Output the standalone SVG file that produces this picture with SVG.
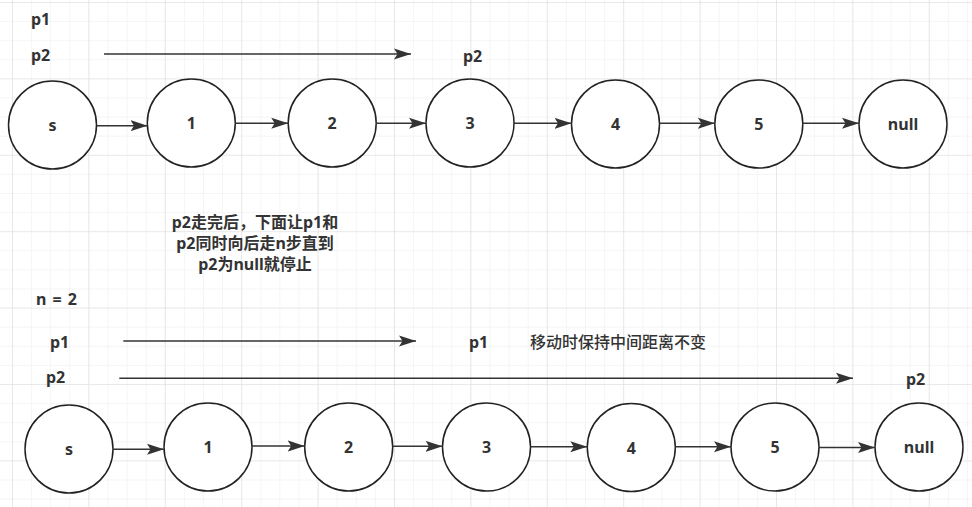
<svg xmlns="http://www.w3.org/2000/svg" width="972" height="507" viewBox="0 0 972 507">
<style>
.n circle{fill:#fff;stroke:#222;stroke-width:1.5}
text{font-family:"Noto Sans","Noto Sans CJK SC",sans-serif;font-size:16px;fill:#333}
.b{font-weight:bold}
.m{font-weight:500}
.c{text-anchor:middle;font-weight:bold}
.e line{stroke:#333;stroke-width:1.5;marker-end:url(#ah)}
</style>
<defs>
<pattern id="minor" x="12" y="2" width="19.1" height="19.1" patternUnits="userSpaceOnUse">
<path d="M0 0V19.1M0 0H19.1" fill="none" stroke="#ececec" stroke-width="1"/>
</pattern>
<pattern id="major" x="12" y="2" width="76.4" height="76.4" patternUnits="userSpaceOnUse">
<path d="M0 0V76.4M0 0H76.4" fill="none" stroke="#dedede" stroke-width="1.2"/>
</pattern>
<marker id="ah" markerUnits="userSpaceOnUse" markerWidth="18" markerHeight="12" refX="17" refY="6" orient="auto">
<path d="M0 0.5L17 6L0 11.5L3.5 6z" fill="#333"/>
</marker>
</defs>
<rect width="972" height="507" fill="#fff"/>
<rect width="972" height="507" fill="url(#minor)"/>
<rect width="972" height="507" fill="url(#major)"/>

<g id="labels">
<text class="b" x="31" y="25">p1</text>
<text class="b" x="31" y="60.5">p2</text>
<text class="b" x="463" y="62">p2</text>
<text class="c" x="255" y="228">p2走完后，下面让p1和</text>
<text class="c" x="255" y="249">p2同时向后走n步直到</text>
<text class="c" x="255" y="270">p2为null就停止</text>
<text class="b" x="36" y="305" xml:space="preserve" word-spacing="2">n = 2</text>
<text class="b" x="50" y="348">p1</text>
<text class="b" x="46" y="383">p2</text>
<text class="b" x="469" y="348">p1</text>
<text class="m" x="530" y="348">移动时保持中间距离不变</text>
<text class="b" x="906" y="385">p2</text>
</g>

<g id="top-s" class="n"><circle cx="52.5" cy="125" r="44"/><text class="c" x="52.5" y="131">s</text></g>
<g id="top-1" class="n"><circle cx="191.3" cy="123" r="44"/><text class="c" x="191.3" y="129">1</text></g>
<g id="top-2" class="n"><circle cx="332.2" cy="123" r="44"/><text class="c" x="332.2" y="129">2</text></g>
<g id="top-3" class="n"><circle cx="470" cy="123" r="44"/><text class="c" x="470" y="129">3</text></g>
<g id="top-4" class="n"><circle cx="615.5" cy="124" r="44"/><text class="c" x="615.5" y="130">4</text></g>
<g id="top-5" class="n"><circle cx="758.8" cy="124" r="44"/><text class="c" x="758.8" y="130">5</text></g>
<g id="top-null" class="n"><circle cx="903" cy="124" r="44"/><text class="c" x="903" y="130">null</text></g>

<g id="bot-s" class="n"><circle cx="69" cy="449" r="44"/><text class="c" x="69" y="455">s</text></g>
<g id="bot-1" class="n"><circle cx="208" cy="447" r="44"/><text class="c" x="208" y="453">1</text></g>
<g id="bot-2" class="n"><circle cx="348.7" cy="447" r="44"/><text class="c" x="348.7" y="453">2</text></g>
<g id="bot-3" class="n"><circle cx="486.5" cy="447" r="44"/><text class="c" x="486.5" y="453">3</text></g>
<g id="bot-4" class="n"><circle cx="631.3" cy="447.5" r="44"/><text class="c" x="631.3" y="453.5">4</text></g>
<g id="bot-5" class="n"><circle cx="775" cy="447" r="44"/><text class="c" x="775" y="453">5</text></g>
<g id="bot-null" class="n"><circle cx="919" cy="447" r="44"/><text class="c" x="919" y="453">null</text></g>

<g id="connectors" class="e">
<line x1="104" y1="54" x2="411" y2="54"/>
<line x1="97" y1="125.7" x2="147.5" y2="125.7"/>
<line x1="235.3" y1="123.3" x2="288.2" y2="123.3"/>
<line x1="376.2" y1="123.3" x2="426" y2="123.3"/>
<line x1="514" y1="123.3" x2="571.5" y2="123.3"/>
<line x1="659.5" y1="123.3" x2="714.8" y2="123.3"/>
<line x1="802.8" y1="123.3" x2="859" y2="123.3"/>
<line x1="123.3" y1="341" x2="416" y2="341"/>
<line x1="119.3" y1="378.3" x2="853" y2="378.3"/>
<line x1="113" y1="449.3" x2="164" y2="449.3"/>
<line x1="252" y1="446" x2="304.7" y2="446"/>
<line x1="392.7" y1="446.3" x2="442.5" y2="446.3"/>
<line x1="530.5" y1="446.7" x2="587.3" y2="446.7"/>
<line x1="675.3" y1="446.7" x2="731" y2="446.7"/>
<line x1="819" y1="447.5" x2="875" y2="447.5"/>
</g>
</svg>
